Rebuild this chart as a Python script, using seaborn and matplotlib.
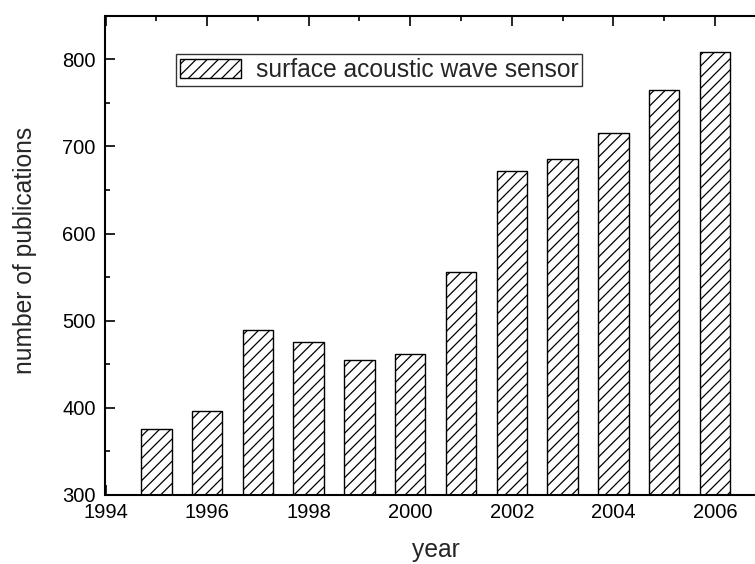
import matplotlib
matplotlib.use("Agg")
import matplotlib.pyplot as plt
import seaborn as sns
import pandas as pd
from matplotlib.ticker import MultipleLocator
from matplotlib.patches import Rectangle
from matplotlib.legend_handler import HandlerPatch

# Publications per year on surface acoustic wave sensors
years = [1995, 1996, 1997, 1998, 1999, 2000, 2001, 2002, 2003, 2004, 2005, 2006]
publications = [376, 396, 489, 475, 455, 462, 556, 672, 686, 715, 765, 808]
series_label = "surface acoustic wave sensor"
x_ticks = [1994, 1996, 1998, 2000, 2002, 2004, 2006]
y_ticks = [300, 400, 500, 600, 700, 800]

df = pd.DataFrame({"year": years, "publications": publications})

sns.set_style("ticks")
plt.rcParams["font.family"] = ["Liberation Sans", "DejaVu Sans"]
plt.rcParams["hatch.linewidth"] = 0.9
plt.rcParams["hatch.color"] = "black"

fig = plt.figure(figsize=(7.55, 5.64), dpi=100)
ax = fig.add_axes([105.5 / 755, 1 - 495 / 564, 660.3 / 755, 479.3 / 564])

sns.barplot(data=df, x="year", y="publications", native_scale=True, width=0.6,
            color="white", edgecolor="black", linewidth=1.0,
            label=series_label, ax=ax)
for p in ax.patches:
    p.set_hatch("///")
    p.set_facecolor("white")

ax.set_xlim(1994, 2007)
ax.set_ylim(300, 850)
ax.set_xticks(x_ticks)
ax.set_yticks(y_ticks)
ax.xaxis.set_minor_locator(MultipleLocator(1))
ax.yaxis.set_minor_locator(MultipleLocator(50))
ax.tick_params(which="both", direction="in", top=True, right=True, width=1.2,
               colors="black", labelsize=14.5)
ax.tick_params(axis="y", which="major", pad=7)
ax.tick_params(axis="x", which="major", pad=6)
ax.tick_params(which="major", length=7)
ax.tick_params(which="minor", length=3.5)
for s in ax.spines.values():
    s.set_visible(True)
    s.set_linewidth(1.5)
    s.set_color("black")

label_fs = 17.7
ax.set_xlabel("year", fontsize=label_fs)
ax.set_ylabel("number of publications", fontsize=label_fs)
ax.xaxis.set_label_coords(0.5, -0.089)
ax.yaxis.set_label_coords(-0.1037, 0.51)


def shifted_patch(legend, orig_handle, xdescent, ydescent, width, height, fontsize):
    # leave a gap on the left of the swatch inside the legend frame
    gap = 9 * 72 / 100
    return Rectangle((-xdescent + gap, -ydescent), width - gap, height)


leg = ax.legend(loc="upper left", bbox_to_anchor=(0.1068, 0.92), borderaxespad=0,
                fontsize=label_fs, frameon=True, fancybox=False, edgecolor="black",
                handlelength=2.48, handleheight=0.8, handletextpad=0.61,
                borderpad=0.16,
                handler_map={Rectangle: HandlerPatch(patch_func=shifted_patch)})
leg.get_frame().set_linewidth(1.0)

fig.savefig("out.png", dpi=100)
